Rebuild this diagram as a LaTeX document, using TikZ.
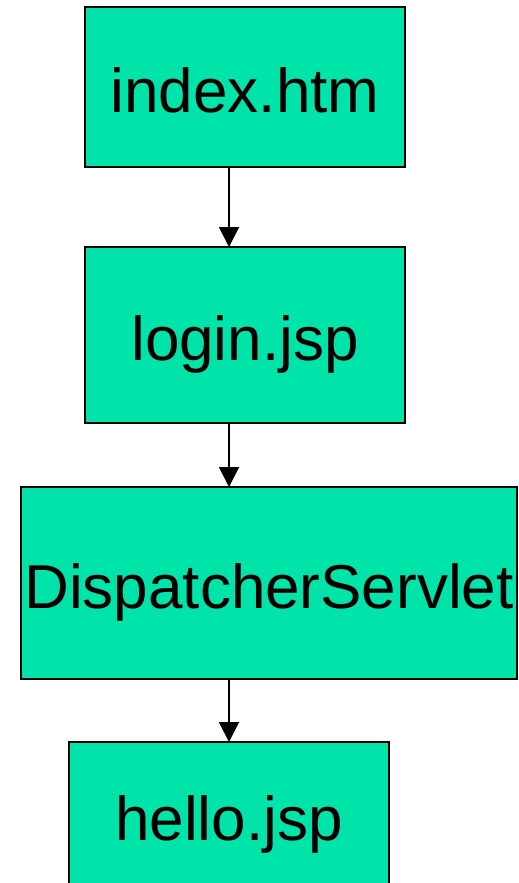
\documentclass[tikz,border=0pt]{standalone}
\usepackage{fontspec}
\setmainfont{Liberation Sans}
\usetikzlibrary{positioning,arrows.meta}

\definecolor{boxgreen}{RGB}{0,228,170}

\begin{document}
\begin{tikzpicture}[
        page/.style={
                rectangle,
                draw=black,
                fill=boxgreen,
                line width=2pt,
                inner sep=0pt,
                outer sep=0pt,
                font=\fontsize{62}{70}\selectfont,
                text height=50pt,
                text depth=0pt
            },
        >={Triangle[width=20pt,length=20pt]},
        line width=2pt
    ]
    \useasboundingbox (0,0) rectangle (519pt,-883pt);

    \node[page, minimum width=320pt, minimum height=160pt] (Index) at (245pt,-87pt) {index.htm};
    \node[page, minimum width=320pt, minimum height=176pt] (Login) [below=80pt of Index] {login.jsp};
    \node[page, minimum width=496pt, minimum height=192pt] (Dispatcher) [below=64pt of Login, xshift=24pt] {DispatcherServlet};
    \node[page, minimum width=320pt, minimum height=146pt] (Hello) [below=63pt of Dispatcher, xshift=-40pt] {hello.jsp};

    \draw[->] (Index.south -| Hello.north) -- (Login.north -| Hello.north);
    \draw[->] (Login.south -| Hello.north) -- (Dispatcher.north -| Hello.north);
    \draw[->] (Dispatcher.south -| Hello.north) -- (Hello.north);
\end{tikzpicture}
\end{document}
